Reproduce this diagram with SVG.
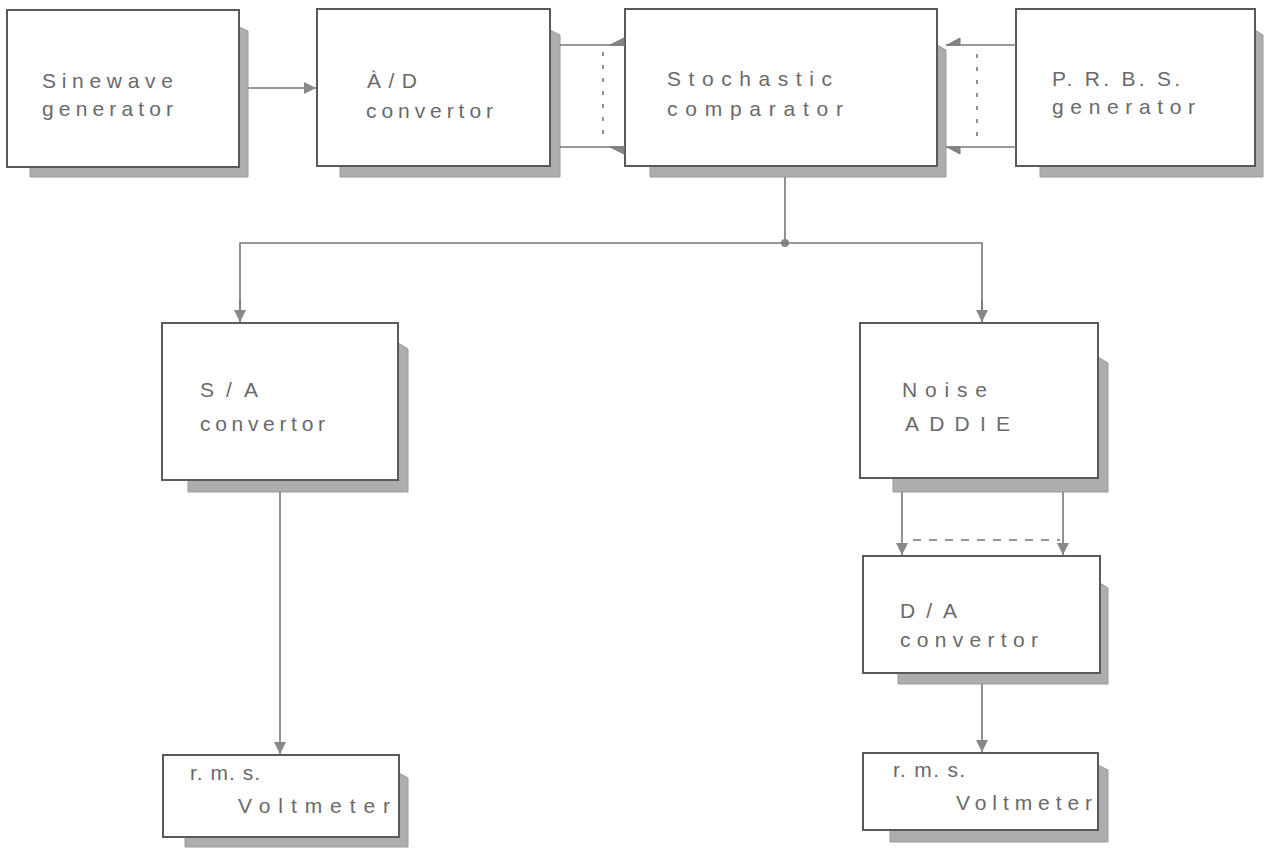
<svg xmlns="http://www.w3.org/2000/svg" width="1270" height="849" viewBox="0 0 1270 849">
<defs>
<style>
.box{fill:#fff;stroke:#5a5a5a;stroke-width:2}
.sh{fill:#adadad;stroke:#9a9a9a;stroke-width:1}
.t{font-family:"Liberation Sans","DejaVu Sans",sans-serif;font-size:21px;fill:#6a6a6a}
.c{fill:none;stroke:#777;stroke-width:1.6}
.d{fill:none;stroke:#777;stroke-width:1.6;stroke-dasharray:4 9}
.ah{fill:#888;stroke:#777;stroke-width:1}
</style>
<marker id="arr" markerUnits="userSpaceOnUse" markerWidth="13" markerHeight="12" refX="12" refY="6" orient="auto">
<path d="M0,0 L12,6 L0,12 z" fill="#888"/>
</marker>
</defs>
<rect width="1270" height="849" fill="#fff"/>

<g id="sinewave">
<path class="sh" d="M239,27 L248,31 L248,177 L30,177 L30,167 L239,167 Z"/>
<rect class="box" x="7" y="10" width="232" height="157"/>
<text class="t" x="42" y="88" textLength="131" lengthAdjust="spacing">Sinewave</text>
<text class="t" x="42" y="116" textLength="131" lengthAdjust="spacing">generator</text>
</g>

<g id="ad">
<path class="sh" d="M550,30 L560,35 L560,177 L340,177 L340,166 L550,166 Z"/>
<rect class="box" x="317" y="9" width="233" height="157"/>
<text class="t" x="367" y="88" textLength="50" lengthAdjust="spacing">À/D</text>
<text class="t" x="366" y="118" textLength="127" lengthAdjust="spacing">convertor</text>
</g>

<g id="stochastic">
<path class="sh" d="M937,45 L946,50 L946,177 L650,177 L650,166 L937,166 Z"/>
<rect class="box" x="625" y="9" width="312" height="157"/>
<text class="t" x="667" y="86" textLength="165" lengthAdjust="spacing">Stochastic</text>
<text class="t" x="667" y="116" textLength="176" lengthAdjust="spacing">comparator</text>
</g>

<g id="prbs">
<path class="sh" d="M1255,30 L1263,35 L1263,177 L1040,177 L1040,166 L1255,166 Z"/>
<rect class="box" x="1016" y="9" width="239" height="157"/>
<text class="t" x="1052" y="86" textLength="128" lengthAdjust="spacing">P. R. B. S.</text>
<text class="t" x="1052" y="114" textLength="143" lengthAdjust="spacing">generator</text>
</g>

<g id="sa">
<path class="sh" d="M398,343 L408,349 L408,492 L188,492 L188,480 L398,480 Z"/>
<rect class="box" x="162" y="323" width="236" height="157"/>
<text class="t" x="200" y="397" textLength="58" lengthAdjust="spacing">S/A</text>
<text class="t" x="200" y="431" textLength="125" lengthAdjust="spacing">convertor</text>
</g>

<g id="noise">
<path class="sh" d="M1098,357 L1108,363 L1108,492 L893,492 L893,478 L1098,478 Z"/>
<rect class="box" x="860" y="323" width="238" height="155"/>
<text class="t" x="902" y="397" textLength="85" lengthAdjust="spacing">Noise</text>
<text class="t" x="905" y="431" textLength="105" lengthAdjust="spacing">ADDIE</text>
</g>

<g id="da">
<path class="sh" d="M1100,583 L1108,588 L1108,684 L898,684 L898,673 L1100,673 Z"/>
<rect class="box" x="863" y="556" width="237" height="117"/>
<text class="t" x="900" y="618" textLength="57" lengthAdjust="spacing">D/A</text>
<text class="t" x="900" y="647" textLength="138" lengthAdjust="spacing">convertor</text>
</g>

<g id="voltmeter-left">
<path class="sh" d="M399,773 L408,778 L408,847 L185,847 L185,837 L399,837 Z"/>
<rect class="box" x="163" y="755" width="236" height="82"/>
<text class="t" x="190" y="780" textLength="70" lengthAdjust="spacing">r. m. s.</text>
<text class="t" x="238" y="813" textLength="152" lengthAdjust="spacing">Voltmeter</text>
</g>

<g id="voltmeter-right">
<path class="sh" d="M1098,765 L1108,770 L1108,842 L890,842 L890,830 L1098,830 Z"/>
<rect class="box" x="863" y="753" width="235" height="77"/>
<text class="t" x="893" y="777" textLength="72" lengthAdjust="spacing">r. m. s.</text>
<text class="t" x="956" y="810" textLength="136" lengthAdjust="spacing">Voltmeter</text>
</g>

<g id="connectors">
<line class="c" x1="248" y1="88" x2="316" y2="88" marker-end="url(#arr)"/>
<line class="c" x1="560" y1="45" x2="625" y2="45"/>
<line class="c" x1="560" y1="147" x2="625" y2="147"/>
<polygon class="ah" points="610,45 624,45 624,38"/>
<polygon class="ah" points="610,147 624,147 624,154"/>
<line class="d" x1="603" y1="52" x2="603" y2="140"/>
<line class="c" x1="946" y1="45" x2="1016" y2="45"/>
<line class="c" x1="946" y1="147" x2="1016" y2="147"/>
<polygon class="ah" points="960,45 947,45 960,38"/>
<polygon class="ah" points="960,147 947,147 960,154"/>
<line class="d" x1="977" y1="54" x2="977" y2="140"/>
<line class="c" x1="785" y1="177" x2="785" y2="243"/>
<circle cx="785" cy="243" r="4" fill="#888"/>
<polyline class="c" points="240,322 240,243 982,243 982,322"/>
<line class="c" x1="240" y1="300" x2="240" y2="322" marker-end="url(#arr)"/>
<line class="c" x1="982" y1="300" x2="982" y2="322" marker-end="url(#arr)"/>
<line class="c" x1="280" y1="492" x2="280" y2="754" marker-end="url(#arr)"/>
<line class="c" x1="902" y1="492" x2="902" y2="555" marker-end="url(#arr)"/>
<line class="c" x1="1063" y1="492" x2="1063" y2="555" marker-end="url(#arr)"/>
<line class="c" x1="913" y1="540" x2="1060" y2="540" stroke-dasharray="8 8"/>
<line class="c" x1="982" y1="684" x2="982" y2="752" marker-end="url(#arr)"/>
</g>
</svg>
